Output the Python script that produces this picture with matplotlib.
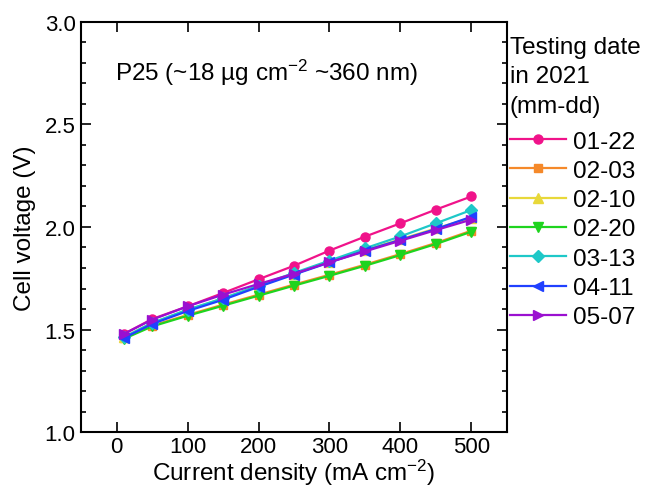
import matplotlib.pyplot as plt
from matplotlib.ticker import MultipleLocator

plt.rcParams["font.family"] = ["Liberation Sans", "DejaVu Sans"]
plt.rcParams["mathtext.fontset"] = "custom"
plt.rcParams["mathtext.rm"] = "Liberation Sans"
plt.rcParams["mathtext.it"] = "Liberation Sans:italic"
plt.rcParams["mathtext.default"] = "regular"

current = [10, 50, 100, 150, 200, 250, 300, 350, 400, 450, 500]

dates = ["01-22", "02-03", "02-10", "02-20", "03-13", "04-11", "05-07"]
v_0122 = [1.478, 1.551, 1.613, 1.678, 1.745, 1.811, 1.885, 1.953, 2.018, 2.085, 2.149]
v_0203 = [1.458, 1.519, 1.571, 1.621, 1.670, 1.719, 1.767, 1.816, 1.868, 1.922, 1.982]
v_0210 = [1.462, 1.532, 1.595, 1.652, 1.712, 1.771, 1.830, 1.887, 1.940, 1.993, 2.045]
v_0220 = [1.454, 1.515, 1.567, 1.616, 1.665, 1.714, 1.762, 1.811, 1.863, 1.917, 1.977]
v_0313 = [1.462, 1.532, 1.597, 1.652, 1.714, 1.776, 1.836, 1.896, 1.954, 2.018, 2.083]
v_0411 = [1.458, 1.527, 1.590, 1.645, 1.708, 1.768, 1.827, 1.885, 1.937, 1.990, 2.050]
v_0507 = [1.478, 1.548, 1.613, 1.670, 1.722, 1.772, 1.828, 1.881, 1.933, 1.985, 2.036]

series = [v_0122, v_0203, v_0210, v_0220, v_0313, v_0411, v_0507]
colors = ["#f0138a", "#f5892a", "#e8d83a", "#1ed41e", "#1ec8c8", "#2040ff", "#9a10d0"]
markers = ["o", "s", "^", "v", "D", "<", ">"]
sizes = [6.5, 6, 7, 7, 6, 7, 7]

fig = plt.figure(figsize=(6.49, 4.89), dpi=100)
ax = fig.add_axes([0.125, 0.1145, 0.656, 0.8385])

for vals, lab, c, m, s in zip(series, dates, colors, markers, sizes):
    ax.plot(current, vals, color=c, marker=m, markersize=s, linewidth=1.6,
            label=lab)

ax.set_xlim(-50, 550)
ax.set_ylim(1.0, 3.0)
ax.xaxis.set_major_locator(MultipleLocator(100))
ax.yaxis.set_major_locator(MultipleLocator(0.5))
ax.yaxis.set_minor_locator(MultipleLocator(0.1))
ax.tick_params(which="both", direction="in", top=True, right=True,
               labelsize=16, width=1.2)
ax.tick_params(which="major", length=7, pad=4)
ax.tick_params(axis="x", which="major", pad=3)
ax.tick_params(which="minor", length=3.5)
for sp in ax.spines.values():
    sp.set_linewidth(1.5)

ax.set_xlabel("Current density (mA cm$^{-2}$)", fontsize=17.5, labelpad=-0.5)
ax.set_ylabel("Cell voltage (V)", fontsize=17.5, labelpad=6)

ax.text(0.08, 0.878, "P25 (~18 \u00b5g cm$^{-2}$ ~360 nm)", transform=ax.transAxes,
        fontsize=17.5, va="center", ha="left")

leg = ax.legend(loc="upper left", bbox_to_anchor=(1.007, 0.965), frameon=False,
                fontsize=17.5, title="Testing date\nin 2021\n(mm-dd)",
                title_fontsize=17.5, handlelength=2.3, handletextpad=0.3,
                labelspacing=0.3, borderaxespad=0.0, borderpad=0.0)
leg._legend_box.align = "left"
leg._legend_box.sep = 10
leg.get_title().set_linespacing(1.42)

fig.savefig("out.png", dpi=100)
